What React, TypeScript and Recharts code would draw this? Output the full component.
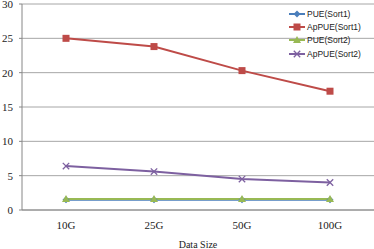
import React from 'react';
import { LineChart, Line, XAxis, YAxis, CartesianGrid, Legend } from 'recharts';

const categories = ['10G', '25G', '50G', '100G'];
const pueSort1 = [1.5, 1.5, 1.5, 1.5];
const apPueSort1 = [25.0, 23.8, 20.3, 17.3];
const pueSort2 = [1.6, 1.6, 1.6, 1.6];
const apPueSort2 = [6.4, 5.6, 4.5, 4.0];
const yTicks = [0, 5, 10, 15, 20, 25, 30];
const boundaryTicks = [0, 1, 2, 3, 4];

const data = categories.map((c, i) => ({
  name: c,
  idx: i + 0.5,
  pue1: pueSort1[i],
  appue1: apPueSort1[i],
  pue2: pueSort2[i],
  appue2: apPueSort2[i],
}));

const BLUE = '#4A7EBB';
const RED = '#BE4B48';
const GREEN = '#98B954';
const PURPLE = '#7D60A0';

const Marker = ({ kind, cx, cy, color }: any) => {
  if (cx == null || cy == null) return <g />;
  if (kind === 'diamond') {
    const r = 3.5;
    return <polygon points={`${cx},${cy - r} ${cx + r},${cy} ${cx},${cy + r} ${cx - r},${cy}`} fill={color} />;
  }
  if (kind === 'square') {
    const r = 3.5;
    return <rect x={cx - r} y={cy - r} width={2 * r} height={2 * r} fill={color} />;
  }
  if (kind === 'triangle') {
    const r = 4;
    return <polygon points={`${cx},${cy - r} ${cx + r},${cy + r * 0.75} ${cx - r},${cy + r * 0.75}`} fill={color} />;
  }
  const r = 3.2;
  return (
    <g stroke={color} strokeWidth={1.3}>
      <line x1={cx - r} y1={cy - r} x2={cx + r} y2={cy + r} />
      <line x1={cx - r} y1={cy + r} x2={cx + r} y2={cy - r} />
    </g>
  );
};

const series = [
  { key: 'pue1', name: 'PUE(Sort1)', color: BLUE, kind: 'diamond' },
  { key: 'appue1', name: 'ApPUE(Sort1)', color: RED, kind: 'square' },
  { key: 'pue2', name: 'PUE(Sort2)', color: GREEN, kind: 'triangle' },
  { key: 'appue2', name: 'ApPUE(Sort2)', color: PURPLE, kind: 'cross' },
];

const LegendContent = () => (
  <div style={{ fontFamily: '"Liberation Sans", Arial, sans-serif', fontSize: 8.5, color: '#222' }}>
    {series.map((s) => (
      <div key={s.key} style={{ display: 'flex', alignItems: 'center', height: 13.4 }}>
        <svg width={16} height={10} style={{ marginRight: 2 }}>
          <line x1={0} y1={5} x2={16} y2={5} stroke={s.color} strokeWidth={2} />
          <Marker kind={s.kind} cx={8} cy={5} color={s.color} />
        </svg>
        <span>{s.name}</span>
      </div>
    ))}
  </div>
);

export default function App() {
  return (
    <div style={{ position: 'absolute', left: 0, top: 0, width: 374, height: 249, background: '#fff' }}>
      <LineChart width={374} height={249} data={data} margin={{ top: 4, right: 0, bottom: 0, left: 0 }}>
        <CartesianGrid vertical={false} stroke="#A6A6A6" strokeWidth={1} />
        <XAxis
          xAxisId="bounds"
          type="number"
          dataKey="idx"
          domain={[0, 4]}
          ticks={boundaryTicks}
          height={0}
          axisLine={false}
          tickLine={{ stroke: '#868686' }}
          tickSize={4}
          tick={{ fontSize: 0 }}
          tickFormatter={() => ''}
        />
        <XAxis
          dataKey="name"
          height={39}
          padding={{ left: 44, right: 44 }}
          axisLine={{ stroke: '#868686' }}
          tickLine={false}
          tickMargin={5}
          tick={{ fontFamily: '"Liberation Serif", "Times New Roman", serif', fontSize: 11, fill: '#222' }}
          label={{
            value: 'Data Size',
            position: 'insideBottom',
            offset: 1,
            style: { fontFamily: '"Liberation Serif", "Times New Roman", serif', fontSize: 10, fill: '#222' },
          }}
        />
        <YAxis
          width={22}
          domain={[0, 30]}
          ticks={yTicks}
          interval={0}
          axisLine={{ stroke: '#868686' }}
          tickLine={{ stroke: '#868686' }}
          tickSize={3}
          tickMargin={6}
          tick={{ fontFamily: '"Liberation Serif", "Times New Roman", serif', fontSize: 11, fill: '#222' }}
        />
        <Legend
          layout="vertical"
          verticalAlign="middle"
          align="center"
          content={<LegendContent />}
          wrapperStyle={{ position: 'absolute', top: 7, left: 289, width: 85 }}
        />
        {series.map((s) => (
          <Line
            key={s.key}
            dataKey={s.key}
            name={s.name}
            stroke={s.color}
            strokeWidth={2}
            isAnimationActive={false}
            dot={(p: any) => <Marker key={`${s.key}-${p.index}`} kind={s.kind} cx={p.cx} cy={p.cy} color={s.color} />}
            activeDot={false}
          />
        ))}
      </LineChart>
    </div>
  );
}
